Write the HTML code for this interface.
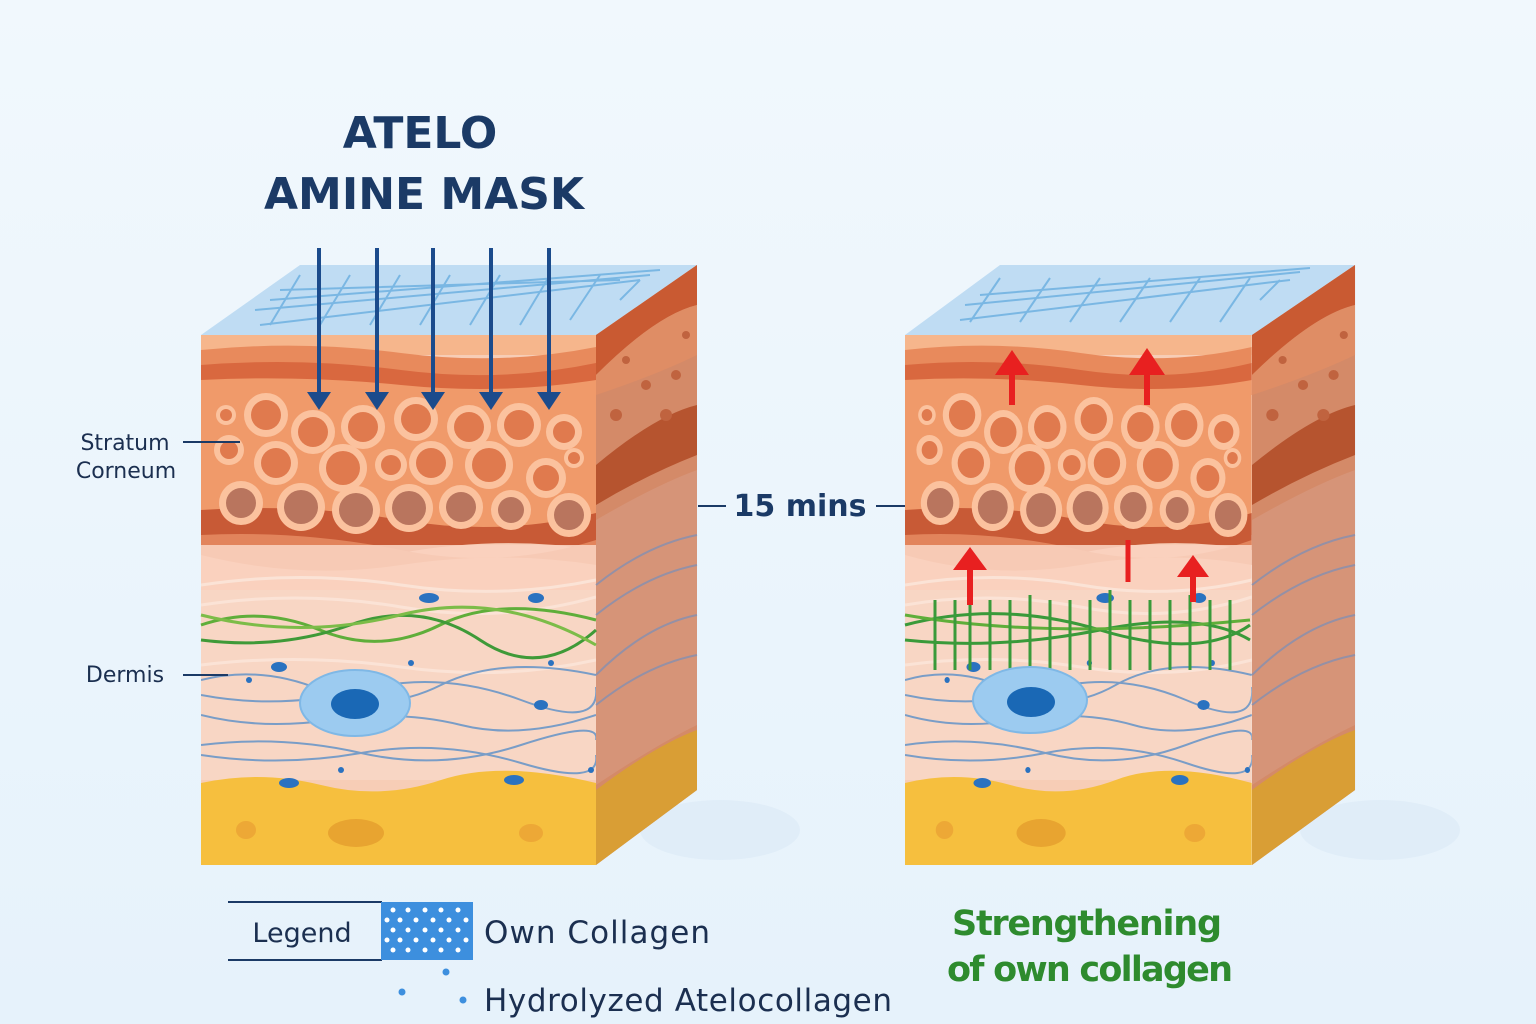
<!DOCTYPE html>
<html><head><meta charset="utf-8"><style>
html,body{margin:0;padding:0;width:1536px;height:1024px;overflow:hidden;background:#eef6fc}
text{font-family:"DejaVu Sans","Liberation Sans",sans-serif}
</style></head><body>
<svg width="1536" height="1024" viewBox="0 0 1536 1024" xmlns="http://www.w3.org/2000/svg">
<defs>
<linearGradient id="bg" x1="0" y1="0" x2="0" y2="1"><stop offset="0" stop-color="#f1f8fd"/><stop offset="1" stop-color="#e6f2fb"/></linearGradient>
<clipPath id="fc"><rect x="0" y="0" width="395" height="530"/></clipPath>
<g id="front">
 <g clip-path="url(#fc)">
 <rect x="0" y="0" width="395" height="530" fill="#f7cdb6"/>
 <rect x="0" y="0" width="395" height="20" fill="#f6b68c"/>
 <path d="M0 15 Q100 5 200 18 T395 12 V60 H0Z" fill="#e88a5c"/>
 <path d="M0 30 Q100 22 200 35 T395 28 V60 H0Z" fill="#d9683f"/>
 <path d="M0 45 Q100 40 200 50 T395 45 V200 H0Z" fill="#f09a6a"/>
 <path d="M0 175 Q100 168 200 185 T395 178 V215 Q300 200 200 218 T0 208Z" fill="#c85a36"/>
 <path d="M0 200 Q100 195 200 215 T395 205 V230 Q300 215 200 230 T0 220Z" fill="#e2845c"/>
 <rect x="0" y="210" width="395" height="45" fill="#f9d2bf" opacity=".9"/>
 <rect x="0" y="255" width="395" height="190" fill="#f8d6c4"/>
 <path d="M0 448 Q60 435 120 450 T240 445 T395 448 V530 H0Z" fill="#f6bf3e"/>
 <ellipse cx="155" cy="498" rx="28" ry="14" fill="#e8a430"/>
 <ellipse cx="45" cy="495" rx="10" ry="9" fill="#eda836"/>
 <ellipse cx="330" cy="498" rx="12" ry="9" fill="#eda836"/>
 <g fill="#fbc29e" stroke="none">
  <circle cx="25" cy="80" r="10"/><circle cx="65" cy="80" r="22"/><circle cx="112" cy="97" r="22"/><circle cx="162" cy="92" r="22"/><circle cx="215" cy="84" r="22"/><circle cx="268" cy="92" r="22"/><circle cx="318" cy="90" r="22"/><circle cx="363" cy="97" r="18"/>
  <circle cx="28" cy="115" r="15"/><circle cx="75" cy="128" r="22"/><circle cx="142" cy="133" r="24"/><circle cx="190" cy="130" r="16"/><circle cx="230" cy="128" r="22"/><circle cx="288" cy="130" r="24"/><circle cx="345" cy="143" r="20"/><circle cx="373" cy="123" r="10"/>
  <circle cx="40" cy="168" r="22"/><circle cx="100" cy="172" r="24"/><circle cx="155" cy="175" r="24"/><circle cx="208" cy="173" r="24"/><circle cx="260" cy="172" r="22"/><circle cx="310" cy="175" r="20"/><circle cx="368" cy="180" r="22"/>
 </g>
 <g fill="#e07a4e">
  <circle cx="25" cy="80" r="6"/><circle cx="65" cy="80" r="15"/><circle cx="112" cy="97" r="15"/><circle cx="162" cy="92" r="15"/><circle cx="215" cy="84" r="15"/><circle cx="268" cy="92" r="15"/><circle cx="318" cy="90" r="15"/><circle cx="363" cy="97" r="11"/>
  <circle cx="28" cy="115" r="9"/><circle cx="75" cy="128" r="15"/><circle cx="142" cy="133" r="17"/><circle cx="190" cy="130" r="10"/><circle cx="230" cy="128" r="15"/><circle cx="288" cy="130" r="17"/><circle cx="345" cy="143" r="13"/><circle cx="373" cy="123" r="6"/>
 </g>
 <g fill="#b9755e">
  <circle cx="40" cy="168" r="15"/><circle cx="100" cy="172" r="17"/><circle cx="155" cy="175" r="17"/><circle cx="208" cy="173" r="17"/><circle cx="260" cy="172" r="15"/><circle cx="310" cy="175" r="13"/><circle cx="368" cy="180" r="15"/>
 </g>
 <g fill="none" stroke="#fbe3d6" stroke-width="3">
  <path d="M0 250 Q100 235 200 250 T395 245"/><path d="M0 270 Q100 255 200 272 T395 262"/><path d="M0 330 Q100 318 200 332 T395 325"/>
 </g>
 <g fill="none" stroke="#5a8fc8" stroke-width="2" opacity=".8">
  <path d="M0 345 Q60 330 120 355 T240 350 T395 340"/><path d="M0 360 Q80 375 160 355 T320 365 T395 352"/><path d="M0 410 Q80 400 160 418 T320 410 T395 405"/><path d="M0 420 Q80 432 160 418 T320 428 T395 420"/><path d="M0 380 Q60 395 130 385 T260 390 T395 380"/>
 </g>
 <g fill="#2a72c0">
  <ellipse cx="228" cy="263" rx="10" ry="5"/><ellipse cx="335" cy="263" rx="8" ry="5"/><ellipse cx="78" cy="332" rx="8" ry="5"/><ellipse cx="340" cy="370" rx="7" ry="5"/><ellipse cx="88" cy="448" rx="10" ry="5"/><ellipse cx="313" cy="445" rx="10" ry="5"/><circle cx="48" cy="345" r="3"/><circle cx="210" cy="328" r="3"/><circle cx="350" cy="328" r="3"/><circle cx="140" cy="435" r="3"/><circle cx="390" cy="435" r="3"/>
 </g>
 </g>
</g>
<g id="side">
 <polygon points="0,70 101,0 101,525 0,600" fill="#d48a68"/>
 <path d="M0 70 L101 0 V40 Q60 50 0 110Z" fill="#c95a32"/>
 <path d="M0 110 Q60 50 101 40 V90 Q60 110 0 130Z" fill="#df8d65"/>
 <path d="M0 200 Q60 150 101 140 V190 Q50 210 0 240Z" fill="#b6542f"/>
 <path d="M0 255 Q60 220 101 205 V460 Q60 480 0 520Z" fill="#d69478"/>
 <path d="M0 525 Q60 480 101 465 V525 L0 600Z" fill="#d99e35"/>
 <g fill="none" stroke="#7a8fb8" stroke-width="2" opacity=".7"><path d="M0 320 Q50 280 101 270"/><path d="M0 350 Q50 310 101 300"/><path d="M0 410 Q50 360 101 350"/><path d="M0 440 Q50 400 101 390"/></g>
 <g fill="#c0633f"><circle cx="20" cy="150" r="6"/><circle cx="50" cy="120" r="5"/><circle cx="80" cy="110" r="5"/><circle cx="30" cy="95" r="4"/><circle cx="70" cy="150" r="6"/><circle cx="90" cy="70" r="4"/></g>
</g>
</defs>
<rect width="1536" height="1024" fill="url(#bg)"/>
<ellipse cx="720" cy="830" rx="80" ry="30" fill="#dbeaf7" opacity=".6"/>
<ellipse cx="1380" cy="830" rx="80" ry="30" fill="#dbeaf7" opacity=".6"/>

<text x="420" y="148" text-anchor="middle" font-size="44" font-weight="bold" fill="#1b3a66">ATELO</text>
<text x="424" y="209" text-anchor="middle" font-size="44" font-weight="bold" fill="#1b3a66">AMINE MASK</text>

<polygon points="201,335 596,335 697,265 300,265" fill="#bfdcf3"/>
<g stroke="#6aaee0" stroke-width="2" fill="none" opacity=".8">
<path d="M260 325 L640 280 M255 310 L650 275 M270 300 L660 270 M280 290 L620 280"/>
<path d="M270 325 L300 275 M320 325 L350 275 M370 325 L400 275 M420 325 L450 275 M470 325 L500 275 M520 325 L550 275 M570 320 L600 275 M620 300 L640 280"/>
</g>
<g transform="translate(201,335)"><use href="#front"/></g>
<g transform="translate(596,265)"><use href="#side"/></g>
<g stroke="#1b4b8c" stroke-width="4" fill="#1b4b8c">
<line x1="319" y1="248" x2="319" y2="395"/><polygon points="307,392 331,392 319,410" stroke="none"/>
<line x1="377" y1="248" x2="377" y2="395"/><polygon points="365,392 389,392 377,410" stroke="none"/>
<line x1="433" y1="248" x2="433" y2="395"/><polygon points="421,392 445,392 433,410" stroke="none"/>
<line x1="491" y1="248" x2="491" y2="395"/><polygon points="479,392 503,392 491,410" stroke="none"/>
<line x1="549" y1="248" x2="549" y2="395"/><polygon points="537,392 561,392 549,410" stroke="none"/>
</g>
<g fill="none" stroke-width="3">
<path d="M201 625 Q260 605 320 630 T440 625 T596 620" stroke="#5fae3a"/>
<path d="M201 640 Q280 650 350 625 T480 640 T596 630" stroke="#3f9a38"/>
<path d="M201 615 Q300 640 400 615 T596 645" stroke="#7cbc48"/>
</g>
<ellipse cx="355" cy="703" rx="55" ry="33" fill="#9ccbf0" stroke="#7fb8e6" stroke-width="2"/>
<ellipse cx="355" cy="704" rx="24" ry="15" fill="#1a68b5"/>

<polygon points="905,335 1252,335 1355,265 1000,265" fill="#bfdcf3"/>
<g stroke="#6aaee0" stroke-width="2" fill="none" opacity=".8">
<path d="M960 320 L1290 280 M965 305 L1300 272 M980 295 L1310 268"/>
<path d="M970 322 L1000 278 M1020 322 L1050 278 M1070 322 L1100 278 M1120 322 L1150 278 M1170 322 L1200 278 M1220 322 L1250 278 M1260 300 L1280 280"/>
</g>
<g transform="translate(905,335) scale(0.878,1)"><use href="#front"/></g>
<g transform="translate(1252,265) scale(1.02,1)"><use href="#side"/></g>
<g stroke="#3a9a3a" stroke-width="3" fill="none">
<path d="M905 625 Q1000 600 1100 630 T1250 625"/>
<path d="M905 640 Q1000 650 1100 630 T1250 640"/>
<path d="M905 615 Q1050 640 1250 620" stroke="#5fae3a"/>
<path d="M935 600V670 M955 600V670 M970 600V670 M990 600V670 M1010 600V670 M1030 595V670 M1050 600V670 M1070 600V670 M1090 600V670 M1110 590V670 M1130 600V670 M1150 600V670 M1170 600V670 M1190 595V670 M1210 600V670 M1230 600V670"/>
</g>
<ellipse cx="1030" cy="700" rx="57" ry="33" fill="#9ccbf0" stroke="#7fb8e6" stroke-width="2"/>
<ellipse cx="1031" cy="702" rx="24" ry="15" fill="#1a68b5"/>
<g fill="#e82020" stroke="#e82020" stroke-width="6">
<line x1="1012" y1="405" x2="1012" y2="372"/><polygon points="995,375 1029,375 1012,350" stroke="none"/>
<line x1="1147" y1="405" x2="1147" y2="372"/><polygon points="1129,375 1165,375 1147,348" stroke="none"/>
<line x1="970" y1="605" x2="970" y2="568"/><polygon points="953,570 987,570 970,547" stroke="none"/>
<line x1="1128" y1="582" x2="1128" y2="540" stroke-width="5"/>
<line x1="1193" y1="602" x2="1193" y2="575"/><polygon points="1177,577 1209,577 1193,555" stroke="none"/>
</g>

<g fill="#1b2f50" font-size="22">
<text x="125" y="450" text-anchor="middle">Stratum</text>
<text x="126" y="478" text-anchor="middle">Corneum</text>
<text x="125" y="682" text-anchor="middle">Dermis</text>
</g>
<g stroke="#1b3a66" stroke-width="2">
<line x1="183" y1="442" x2="240" y2="442"/><line x1="183" y1="675" x2="228" y2="675"/>
<line x1="698" y1="506" x2="726" y2="506"/><line x1="876" y1="506" x2="905" y2="506"/>
</g>
<text x="800" y="516" text-anchor="middle" font-size="30" font-weight="bold" fill="#1b3a66">15 mins</text>

<line x1="228" y1="902" x2="382" y2="902" stroke="#1b3a66" stroke-width="2"/>
<line x1="228" y1="960" x2="382" y2="960" stroke="#1b3a66" stroke-width="2"/>
<text x="302" y="942" text-anchor="middle" font-size="27" fill="#1b2f50">Legend</text>
<rect x="381" y="902" width="92" height="58" fill="#3d8fde"/>
<g fill="#fff">
<circle cx="393" cy="910" r="2.5"/><circle cx="408" cy="910" r="2.5"/><circle cx="425" cy="910" r="2.5"/><circle cx="441" cy="910" r="2.5"/><circle cx="458" cy="910" r="2.5"/>
<circle cx="387" cy="920" r="2.5"/><circle cx="400" cy="920" r="2.5"/><circle cx="416" cy="920" r="2.5"/><circle cx="433" cy="920" r="2.5"/><circle cx="449" cy="920" r="2.5"/><circle cx="466" cy="920" r="2.5"/>
<circle cx="393" cy="930" r="2.5"/><circle cx="408" cy="930" r="2.5"/><circle cx="425" cy="930" r="2.5"/><circle cx="441" cy="930" r="2.5"/><circle cx="458" cy="930" r="2.5"/>
<circle cx="387" cy="940" r="2.5"/><circle cx="400" cy="940" r="2.5"/><circle cx="416" cy="940" r="2.5"/><circle cx="433" cy="940" r="2.5"/><circle cx="449" cy="940" r="2.5"/><circle cx="466" cy="940" r="2.5"/>
<circle cx="393" cy="950" r="2.5"/><circle cx="408" cy="950" r="2.5"/><circle cx="425" cy="950" r="2.5"/><circle cx="441" cy="950" r="2.5"/><circle cx="458" cy="950" r="2.5"/>
</g>
<text x="484" y="943" font-size="31" fill="#1b2f50" textLength="226">Own Collagen</text>
<g fill="#3d8fde"><circle cx="446" cy="972" r="3.5"/><circle cx="402" cy="992" r="3.5"/><circle cx="463" cy="1000" r="3.5"/></g>
<text x="484" y="1011" font-size="31" fill="#1b2f50" textLength="408">Hydrolyzed Atelocollagen</text>

<text x="1087" y="935" text-anchor="middle" font-size="35" font-weight="bold" fill="#2e8b2e" textLength="270">Strengthening</text>
<text x="1090" y="981" text-anchor="middle" font-size="35" font-weight="bold" fill="#2e8b2e" textLength="286">of own collagen</text>
</svg>
</body></html>
